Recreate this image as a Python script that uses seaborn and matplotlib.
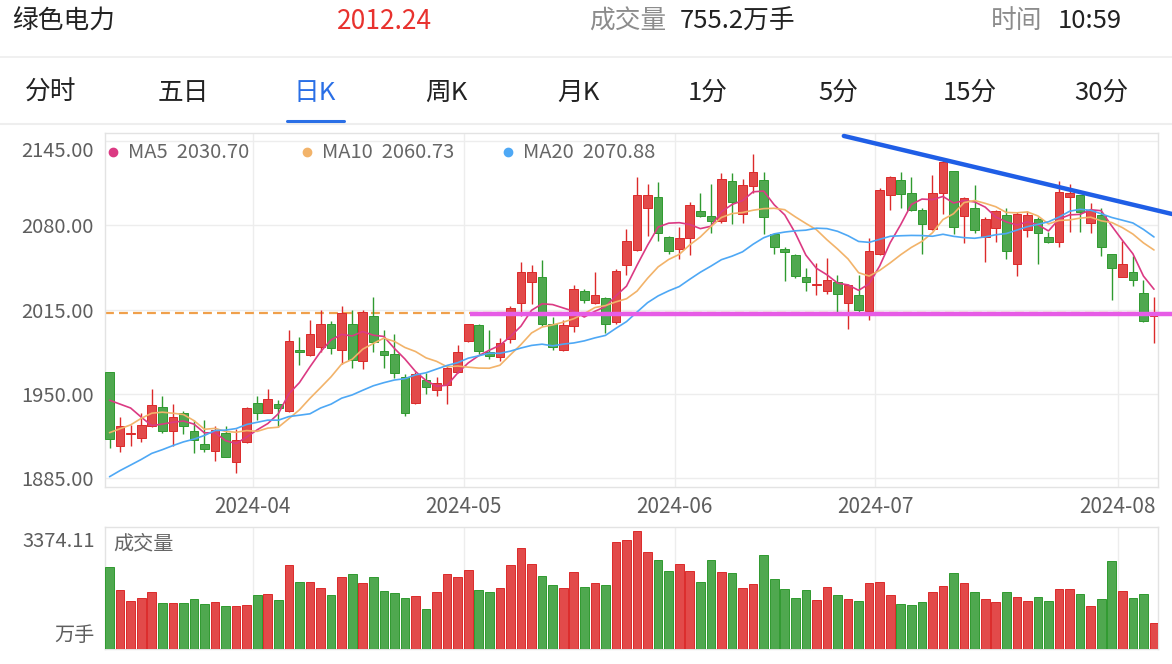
import matplotlib
matplotlib.use("Agg")
import matplotlib.pyplot as plt
from matplotlib.lines import Line2D
import numpy as np
import pandas as pd
import seaborn as sns

# daily K, 100 sessions 2024-03-12 .. 2024-08-06
opens = [1967, 1910, 1919, 1916, 1925, 1940, 1921, 1935, 1921, 1911,
         1906, 1920, 1897, 1913, 1943, 1935, 1942, 1937, 1984, 1980,
         1986, 2004, 1984, 2004, 1975, 2010, 1983, 1981, 1963, 1943,
         1961, 1953, 1957, 1967, 1991, 2003, 1982, 1978, 1992, 2020,
         2036, 2040, 2004, 1984, 2002, 2029, 2020, 2024, 2005, 2049,
         2061, 2093, 2102, 2071, 2062, 2070, 2091, 2087, 2083, 2114,
         2089, 2110, 2115, 2073, 2062, 2057, 2040, 2034, 2029, 2036,
         2020, 2026, 2014, 2058, 2103, 2115, 2105, 2092, 2077, 2105,
         2122, 2087, 2093, 2071, 2078, 2088, 2050, 2076, 2085, 2071,
         2067, 2102, 2103, 2082, 2088, 2058, 2040, 2044, 2028, 2010]
highs = [1967, 1932, 1926, 1935, 1954, 1948, 1942, 1937, 1930, 1930,
         1925, 1925, 1923, 1940, 1948, 1954, 1945, 1999, 1994, 2007,
         2015, 2006, 2018, 2015, 2015, 2025, 1999, 1996, 1965, 1967,
         1966, 1963, 1972, 1988, 2004, 2004, 1999, 1993, 2018, 2052,
         2049, 2053, 2009, 2007, 2034, 2031, 2044, 2025, 2046, 2077,
         2117, 2112, 2113, 2072, 2079, 2098, 2105, 2112, 2120, 2120,
         2116, 2135, 2121, 2074, 2063, 2058, 2047, 2051, 2055, 2042,
         2035, 2042, 2070, 2109, 2118, 2121, 2117, 2093, 2119, 2130,
         2122, 2102, 2111, 2086, 2092, 2093, 2090, 2091, 2086, 2075,
         2114, 2112, 2103, 2097, 2093, 2058, 2068, 2056, 2038, 2025]
lows = [1908, 1905, 1910, 1913, 1924, 1920, 1910, 1919, 1904, 1905,
        1898, 1901, 1889, 1912, 1930, 1935, 1924, 1936, 1972, 1979,
        1982, 1981, 1973, 1970, 1969, 1982, 1970, 1962, 1933, 1942,
        1950, 1948, 1942, 1966, 1990, 1981, 1977, 1975, 1989, 2010,
        2019, 2002, 1984, 1983, 1998, 2020, 2019, 1997, 2004, 2042,
        2060, 2072, 2068, 2058, 2054, 2057, 2086, 2074, 2082, 2081,
        2082, 2105, 2073, 2058, 2037, 2039, 2029, 2026, 2027, 2013,
        2000, 2013, 2007, 2057, 2092, 2093, 2091, 2058, 2076, 2089,
        2073, 2066, 2074, 2052, 2067, 2054, 2041, 2071, 2050, 2066,
        2063, 2075, 2075, 2074, 2056, 2022, 2040, 2033, 2005, 1989]
closes = [1915, 1925, 1920, 1926, 1941, 1921, 1932, 1925, 1914, 1907,
          1922, 1901, 1914, 1939, 1935, 1946, 1939, 1991, 1982, 1996,
          2004, 1985, 2012, 1976, 2013, 1990, 1980, 1966, 1935, 1965,
          1955, 1958, 1970, 1982, 2004, 1983, 1979, 1989, 2016, 2044,
          2044, 2004, 1986, 2003, 2031, 2022, 2026, 2004, 2045, 2068,
          2103, 2103, 2074, 2060, 2070, 2096, 2087, 2083, 2116, 2098,
          2111, 2121, 2086, 2063, 2059, 2041, 2036, 2035, 2038, 2027,
          2034, 2015, 2060, 2107, 2117, 2104, 2092, 2081, 2105, 2129,
          2079, 2101, 2076, 2085, 2091, 2060, 2089, 2088, 2074, 2067,
          2106, 2105, 2090, 2092, 2063, 2047, 2050, 2038, 2006, 2012.24]
# 万手
volumes = [2336, 1682, 1375, 1471, 1634, 1317, 1327, 1307, 1423, 1279,
           1346, 1230, 1230, 1250, 1548, 1586, 1413, 2403, 1923, 1932,
           1759, 1538, 2048, 2144, 1884, 2067, 1653, 1605, 1452, 1519,
           1134, 1644, 2144, 2048, 2259, 1692, 1644, 1750, 2403, 2903,
           2422, 2096, 1836, 1759, 2211, 1778, 1903, 1836, 3076, 3115,
           3374.11, 2788, 2547, 2221, 2432, 2240, 1932, 2557, 2192, 2163,
           1740, 1865, 2682, 1990, 1721, 1461, 1702, 1394, 1788, 1557,
           1442, 1375, 1894, 1932, 1548, 1279, 1269, 1355, 1644, 1798,
           2173, 1903, 1625, 1442, 1346, 1644, 1500, 1384, 1500, 1375,
           1721, 1721, 1567, 1230, 1423, 2528, 1663, 1471, 1586, 755.2]
# closes before the window, backed out from where the MA lines start
prior_closes = [1830, 1835, 1840, 1847, 1864, 1869, 1868, 1871, 1850, 1846,
                1895, 1890, 1876, 1901, 1913, 1940, 1935, 1961, 1974]

ma_windows = [5, 10, 20]
ma_last = [2030.70, 2060.73, 2070.88]
ma_colors = ["#db3a83", "#f2b36a", "#4ea8f5"]

month_idx = [14, 34, 54, 73, 96]
month_labels = ["2024-04", "2024-05", "2024-06", "2024-07", "2024-08"]
price_ticks = [2145, 2080, 2015, 1950, 1885]
last_price = 2012.24
support_level = 2011.3
trend_x = [69.6, 100.7]
trend_y = [2148.9, 2088.7]

tabs = ["分时", "五日", "日K", "周K", "月K", "1分", "5分", "15分", "30分"]
tab_x = [51, 183, 315, 446, 578, 708, 838, 970, 1101]

RED, RED_EDGE = "#e24a4a", "#dc2a2a"
GREEN, GREEN_EDGE = "#4fa84f", "#2f9a2f"
GRID = "#ededed"
BLUE = "#2a6fe6"
LABEL = "#5e5e5e"

W, H = 1172, 664

sns.set_theme(style="white")
plt.rcParams["font.family"] = ["Noto Sans CJK SC", "DejaVu Sans"]


def fx(x):
    return x / W


def fy(y):
    return 1 - y / H


df = pd.DataFrame({"open": opens, "high": highs, "low": lows,
                   "close": closes, "vol": volumes})
df["i"] = np.arange(len(df))
up = (df["close"] >= df["open"]).to_numpy()
face = np.where(up, RED, GREEN)
edge = np.where(up, RED_EDGE, GREEN_EDGE)

fig = plt.figure(figsize=(W / 100, H / 100), dpi=100)
ax = fig.add_axes([fx(105), fy(486.7), fx(1158) - fx(105), fy(132.7) - fy(486.7)])
axv = fig.add_axes([fx(105), fy(649), fx(1158) - fx(105), fy(527) - fy(649)])

xlim = (-0.43, 99.38)

# candles
ax.vlines(df["i"], df["low"], df["high"], colors=edge, lw=1.0, zorder=3)
body = (df["close"] - df["open"]).abs().clip(lower=0.8)
ax.bar(df["i"], body, bottom=np.minimum(df["open"], df["close"]), width=0.82,
       color=face, edgecolor=edge, linewidth=0.7, zorder=4)

# moving averages
all_close = pd.Series(prior_closes + closes, dtype=float)
for n, col in zip(ma_windows, ma_colors):
    ma = all_close.rolling(n).mean().iloc[len(prior_closes):].to_numpy()
    sns.lineplot(x=df["i"], y=ma, ax=ax, color=col, lw=1.2, zorder=5)

ax.axhline(last_price, color="#f0a04b", lw=1.6, dashes=(4, 2.3), zorder=2)
ax.plot([34.2, 100.7], [support_level, support_level], color="#e65ce6", lw=3.2,
        solid_capstyle="butt", clip_on=False, zorder=6)
ax.plot(trend_x, trend_y, color="#1f5ee6", lw=3.2, clip_on=False, zorder=6)

ax.set_xlim(*xlim)
ax.set_ylim(1878.3, 2151.4)
ax.set_yticks(price_ticks, labels=[f"{v:.2f}" for v in price_ticks])
ax.set_xticks([m - 0.42 for m in month_idx], labels=month_labels)
ax.grid(True, color=GRID, lw=1)
ax.tick_params(axis="y", length=0, pad=8, labelsize=14.5, labelcolor=LABEL)
ax.tick_params(axis="x", length=0, pad=7, labelsize=15, labelcolor=LABEL)
for lab in ax.get_yticklabels():
    if lab.get_text() == "2145.00":
        lab.set_va("top")
ax.set_xlabel("")
ax.set_ylabel("")

# volume
axv.bar(df["i"], df["vol"], width=0.82, color=face, edgecolor=edge, linewidth=0.7, zorder=3)
axv.set_xlim(*xlim)
axv.set_ylim(0, max(volumes) * 1.035)
axv.set_xticks([m - 0.42 for m in month_idx])
axv.set_xticklabels([])
axv.set_yticks([])
axv.grid(True, axis="x", color=GRID, lw=1)
axv.tick_params(length=0)
axv.text(-0.0095, 0.885, f"{max(volumes):.2f}", transform=axv.transAxes, ha="right",
         va="center", fontsize=14.5, color=LABEL)
axv.text(-0.0095, 0.107, "万手", transform=axv.transAxes, ha="right",
         va="center", fontsize=14.5, color=LABEL)
axv.text(0.0076, 0.86, "成交量", transform=axv.transAxes, ha="left",
         va="center", fontsize=14.5, color="#666666")

for a in (ax, axv):
    for s in a.spines.values():
        s.set_color("#e3e3e3")
        s.set_linewidth(1)

# legend row
leg_x = [113, 307, 508]
for x0, n, v, col in zip(leg_x, ma_windows, ma_last, ma_colors):
    fig.add_artist(Line2D([fx(x0)], [fy(152)], marker="o", ms=6, color=col, lw=0))
    fig.text(fx(x0 + 15), fy(152), f"MA{n}  {v:.2f}", ha="left", va="center",
             fontsize=14.5, color="#666666")

# header
hy = fy(21.5)
fig.text(fx(12), hy, "绿色电力", fontsize=18.5, color="#222222", va="center")
fig.text(fx(385), hy, f"{last_price:.2f}", fontsize=19, color="#e8322e",
         va="center", ha="center")
fig.text(fx(589), hy, "成交量", fontsize=18.5, color="#8c8c8c", va="center")
fig.text(fx(680), hy, f"{volumes[-1]}万手", fontsize=18.5, color="#222222", va="center")
fig.text(fx(991), hy, "时间", fontsize=18.5, color="#8c8c8c", va="center")
fig.text(fx(1058), hy, "10:59", fontsize=18.5, color="#222222", va="center")

for t, x0 in zip(tabs, tab_x):
    fig.text(fx(x0), fy(93), t, fontsize=18.5, ha="center", va="center",
             color=BLUE if t == "日K" else "#222222")

fig.add_artist(Line2D([0, 1], [fy(57), fy(57)], color="#eeeeee", lw=1.2))
fig.add_artist(Line2D([0, 1], [fy(124), fy(124)], color="#eeeeee", lw=1.5))
fig.add_artist(Line2D([fx(287), fx(344)], [fy(120.5), fy(120.5)], color=BLUE, lw=2.2))

fig.savefig("out.png", dpi=100, facecolor="white")
